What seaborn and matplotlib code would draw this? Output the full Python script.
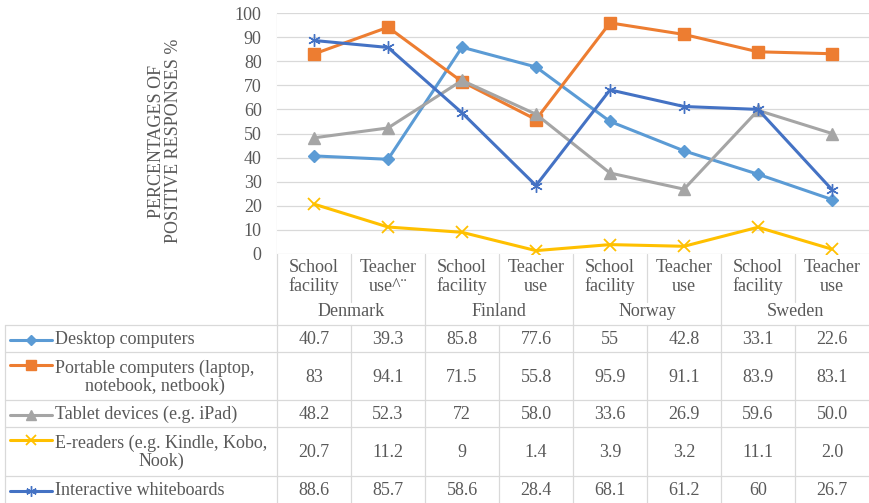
"""
Line chart with Excel-style data table: ICT availability and teacher use in Nordic schools.
"""

import matplotlib
matplotlib.use("Agg")
import matplotlib.pyplot as plt
import matplotlib.transforms as mtransforms
from matplotlib.lines import Line2D
import pandas as pd
import seaborn as sns

W, H = 869, 503

COUNTRIES = ["Denmark", "Finland", "Norway", "Sweden"]
SUBCATS = ["School\nfacility", "Teacher\nuse^¨",
           "School\nfacility", "Teacher\nuse",
           "School\nfacility", "Teacher\nuse",
           "School\nfacility", "Teacher\nuse"]

SERIES = ["Desktop computers",
          "Portable computers (laptop,\nnotebook, netbook)",
          "Tablet devices (e.g. iPad)",
          "E-readers (e.g. Kindle, Kobo,\nNook)",
          "Interactive whiteboards"]

# values as printed in the data table
desktop = ["40.7", "39.3", "85.8", "77.6", "55", "42.8", "33.1", "22.6"]
portable = ["83", "94.1", "71.5", "55.8", "95.9", "91.1", "83.9", "83.1"]
tablet = ["48.2", "52.3", "72", "58.0", "33.6", "26.9", "59.6", "50.0"]
ereaders = ["20.7", "11.2", "9", "1.4", "3.9", "3.2", "11.1", "2.0"]
whiteboards = ["88.6", "85.7", "58.6", "28.4", "68.1", "61.2", "60", "26.7"]

VALUES = [desktop, portable, tablet, ereaders, whiteboards]
COLORS = ["#5B9BD5", "#ED7D31", "#A5A5A5", "#FFC000", "#4472C4"]
MARKERS = ["D", "s", "^", "x", (6, 2, 0)]
MSIZES = [6.5, 9, 8.5, 8, 9]
MEWS = [1.0, 1.0, 1.0, 1.3, 1.0]

TEXT = "#595959"
GRID = "#D9D9D9"
FONT = "Liberation Serif"
FS = 13

# plot area and table rows, in pixels from the top-left
PLOT_L, PLOT_R, PLOT_T, PLOT_B = 277, 869, 13, 254
ROW_EDGES = [325, 352, 400, 427, 476, 503]


def fy(y):
    return 1 - y / H


def fig_line(fig, x0, y0, x1, y1, tr=None):
    fig.add_artist(Line2D([x0, x1], [y0, y1], transform=tr or fig.transFigure,
                          color=GRID, lw=0.9, zorder=0))


sns.set_theme(style="white")
plt.rcParams["font.family"] = FONT

rows = []
for name, vals in zip(SERIES, VALUES):
    for i, v in enumerate(vals):
        rows.append({"series": name, "pos": i, "value": float(v)})
df = pd.DataFrame(rows)

fig = plt.figure(figsize=(W / 100, H / 100), dpi=100)
ax = fig.add_axes([PLOT_L / W, fy(PLOT_B), (PLOT_R - PLOT_L) / W,
                   (PLOT_B - PLOT_T) / H])

for name, color, mk, ms, mew in zip(SERIES, COLORS, MARKERS, MSIZES, MEWS):
    sns.lineplot(data=df[df["series"] == name], x="pos", y="value",
                 color=color, marker=mk, markersize=ms, mec=color, mfc=color,
                 mew=mew, lw=2.2, sort=False, ax=ax)

ax.set_xlim(-0.5, len(SUBCATS) - 0.5)
ax.set_ylim(0, 100)
ax.set_yticks(range(0, 101, 10))
ax.set_xticks([])
ax.set_xlabel("")
ax.set_ylabel("")
ax.yaxis.grid(True, color=GRID, lw=0.9)
ax.set_axisbelow(True)
for s in ax.spines.values():
    s.set_visible(False)
ax.tick_params(axis="y", length=0, pad=11, labelsize=FS, labelcolor=TEXT)

fig.text(165 / W, fy(141), "PERCENTAGES OF\nPOSITIVE RESPONSES %",
         rotation=90, ha="center", va="center", fontsize=FS, color=TEXT,
         linespacing=1.0)

# table: x in data units, y in figure units
tr = mtransforms.blended_transform_factory(ax.transData, fig.transFigure)
n = len(SUBCATS)

# left border of the plot area running down through the table
fig_line(fig, PLOT_L / W, fy(PLOT_T), PLOT_L / W, fy(H))
# separators between sub categories and countries
for i in range(1, n):
    if i % 2 == 0:
        fig_line(fig, i - 0.5, fy(PLOT_B), i - 0.5, fy(H), tr)
    else:
        fig_line(fig, i - 0.5, fy(PLOT_B), i - 0.5, fy(302), tr)
        fig_line(fig, i - 0.5, fy(ROW_EDGES[0]), i - 0.5, fy(H), tr)
# row lines
for y in ROW_EDGES[:-1]:
    fig_line(fig, 5 / W, fy(y), 1, fy(y))
fig_line(fig, 5 / W, fy(ROW_EDGES[0]), 5 / W, fy(H))

for i, lab in enumerate(SUBCATS):
    fig.text(i, fy(277), lab, transform=tr, ha="center", va="center",
             fontsize=FS, color=TEXT, linespacing=1.1)
for k, c in enumerate(COUNTRIES):
    fig.text(2 * k + 0.5, fy(312), c, transform=tr, ha="center",
             va="center", fontsize=FS, color=TEXT)

for r, (name, vals) in enumerate(zip(SERIES, VALUES)):
    yc = fy((ROW_EDGES[r] + ROW_EDGES[r + 1]) / 2 + 1)
    for i, v in enumerate(vals):
        fig.text(i, yc, v, transform=tr, ha="center", va="center",
                 fontsize=FS, color=TEXT)
    fig.text(55 / W, yc, name, ha="left", va="center", multialignment="center",
             fontsize=FS, color=TEXT, linespacing=1.05)
    yk = fy(ROW_EDGES[r] + 13) if "\n" in name else yc
    fig.add_artist(Line2D([10 / W, 52 / W], [yk, yk], transform=fig.transFigure,
                          color=COLORS[r], lw=2.2))
    fig.add_artist(Line2D([31 / W], [yk], transform=fig.transFigure,
                          color=COLORS[r], marker=MARKERS[r],
                          markersize=MSIZES[r] * 0.85, mew=MEWS[r]))

fig.savefig("out.png", dpi=100)
